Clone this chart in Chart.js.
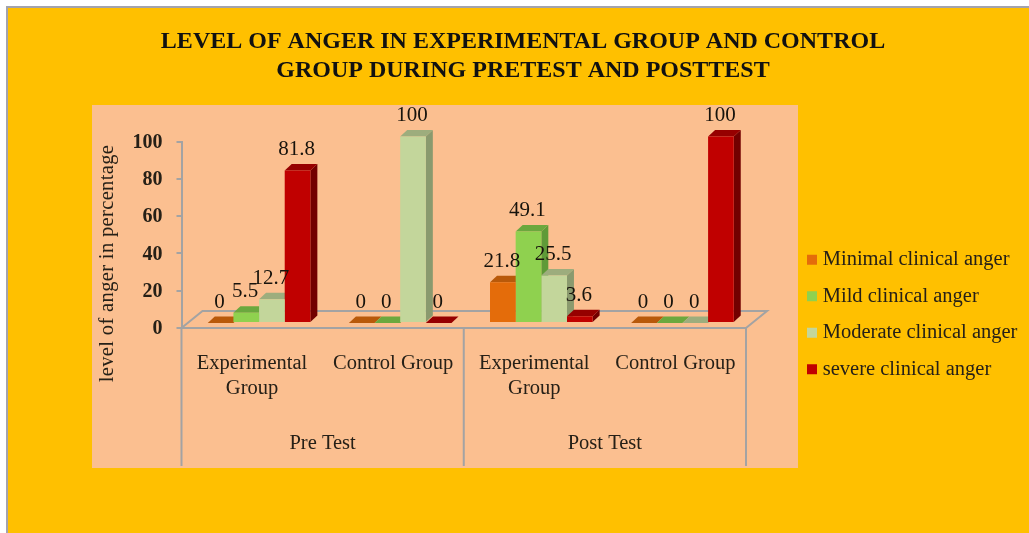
<!DOCTYPE html>
<html>
<head>
<meta charset="utf-8">
<script src="https://cdn.jsdelivr.net/npm/chart.js@4"></script>
<style>
    html, body { margin: 0; padding: 0; background: #fff; overflow: hidden; }
    #frame { position: absolute; left: 6px; top: 6px; width: 1023px; height: 527px; background: #FFC000;
             border-left: 2px solid #a3a3ad; border-top: 2px solid #a3a3ad; box-sizing: border-box; }
    #chart { position: absolute; left: 0; top: 0; }
</style>
</head>
<body>
<div id="frame"></div>
<canvas id="chart" width="1029" height="533"></canvas>
<script>
const groupLabels = [['Experimental', 'Group'], 'Control Group', ['Experimental', 'Group'], 'Control Group'];
const testLabels = ['Pre Test', 'Post Test'];
const titleLines = ['LEVEL OF ANGER IN EXPERIMENTAL GROUP AND CONTROL', 'GROUP DURING PRETEST AND POSTTEST'];
const yAxisTitle = 'level of anger in percentage';

const minimalAnger = [0, 0, 21.8, 0];
const mildAnger = [5.5, 0, 49.1, 0];
const moderateAnger = [12.7, 100, 25.5, 0];
const severeAnger = [81.8, 0, 3.6, 100];

const frontColors = ['#E46C0A', '#8FD14F', '#C3D69B', '#C00000'];
const topColors = ['#B8590A', '#6BA83E', '#9DAD7D', '#960000'];
const sideColors = ['#A34E08', '#5F9A38', '#8A9A6E', '#720000'];

const serif = '"Liberation Serif", serif';
const inkColor = '#262017';
const lineColor = '#A3A3A3';

// bars sit a bit up and right of the axes, like the 3d floor in the original
const barShift = { x: 7, y: -5 };
const depth = { x: 7, y: 6.5 };
const floorDepth = { x: 21, y: 17 };

function poly(ctx, color, pts) {
    ctx.fillStyle = color;
    ctx.beginPath();
    pts.forEach((p, i) => i ? ctx.lineTo(p[0], p[1]) : ctx.moveTo(p[0], p[1]));
    ctx.closePath();
    ctx.fill();
}

const bars3d = {
    id: 'bars3d',
    beforeDraw(chart) {
        const ctx = chart.ctx;
        ctx.fillStyle = '#FBBF90';
        ctx.fillRect(92, 105, 706, 363);
    },
    afterLayout(chart) {
        const t = chart.titleBlock;
        t.left = 17; t.right = 1029; t.top = 27; t.bottom = 85;
        const l = chart.legend;
        l.left = 795.5; l.right = 1029; l.top = 233.5; l.bottom = 400;
    },
    beforeDatasetsDraw(chart) {
        const ctx = chart.ctx;
        const x = chart.scales.x, y = chart.scales.y;
        const y0 = y.getPixelForValue(0);

        // floor outline and the separators under the axis
        ctx.save();
        ctx.strokeStyle = lineColor;
        ctx.lineWidth = 2;
        ctx.beginPath();
        ctx.moveTo(x.left, y0);
        ctx.lineTo(x.left + floorDepth.x, y0 - floorDepth.y);
        ctx.lineTo(x.right + floorDepth.x, y0 - floorDepth.y);
        ctx.lineTo(x.right, y0);
        [x.left, (x.left + x.right) / 2, x.right].forEach(px => {
            ctx.moveTo(px, y0);
            ctx.lineTo(px, 466);
        });
        ctx.stroke();
        ctx.restore();

        ctx.save();
        ctx.translate(barShift.x, barShift.y);
        // depth faces go first, left to right, the fronts are drawn by chart.js on top
        for (let c = 0; c < groupLabels.length; c++) {
            chart.data.datasets.forEach((ds, i) => {
                const b = chart.getDatasetMeta(i).data[c];
                const l = b.x - b.width / 2, r = b.x + b.width / 2;
                poly(ctx, sideColors[i], [[r, b.y], [r + depth.x, b.y - depth.y], [r + depth.x, b.base - depth.y], [r, b.base]]);
                poly(ctx, topColors[i], [[l, b.y], [r, b.y], [r + depth.x, b.y - depth.y], [l + depth.x, b.y - depth.y]]);
            });
        }
    },
    afterDatasetsDraw(chart) {
        const ctx = chart.ctx;
        ctx.restore();

        ctx.save();
        ctx.font = '21px ' + serif;
        ctx.fillStyle = '#17130c';
        ctx.textAlign = 'center';
        ctx.textBaseline = 'middle';
        chart.data.datasets.forEach((ds, i) => {
            chart.getDatasetMeta(i).data.forEach((b, c) => {
                ctx.fillText(String(ds.data[c]), b.x + barShift.x - 1, b.y + barShift.y - 21);
            });
        });
        ctx.restore();

        // axis title sits lower than the scale centre, so it is placed by hand
        ctx.save();
        ctx.translate(107.5, 263.5);
        ctx.rotate(-Math.PI / 2);
        ctx.font = '20.5px ' + serif;
        ctx.letterSpacing = '0.35px';
        ctx.fillStyle = inkColor;
        ctx.textAlign = 'center';
        ctx.textBaseline = 'middle';
        ctx.fillText(yAxisTitle, 0, 0);
        ctx.restore();
    }
};

new Chart(document.getElementById('chart'), {
    type: 'bar',
    plugins: [bars3d],
    data: {
        labels: groupLabels,
        datasets: [
            { label: 'Minimal clinical anger', data: minimalAnger, backgroundColor: frontColors[0], clip: false },
            { label: 'Mild clinical anger', data: mildAnger, backgroundColor: frontColors[1], clip: false },
            { label: 'Moderate clinical anger', data: moderateAnger, backgroundColor: frontColors[2], clip: false },
            { label: 'severe clinical anger', data: severeAnger, backgroundColor: frontColors[3], clip: false }
        ]
    },
    options: {
        responsive: false,
        animation: false,
        layout: { padding: { left: 92, right: 283, top: 83.5, bottom: 55 } },
        datasets: { bar: { barPercentage: 1, categoryPercentage: 0.727 } },
        plugins: {
            title: {
                display: true,
                text: titleLines,
                color: '#111',
                padding: 0,
                font: { family: serif, size: 24, weight: 'bold', lineHeight: 29 / 24 }
            },
            legend: {
                position: 'chartArea',
                align: 'start',
                labels: {
                    color: inkColor,
                    boxWidth: 1,
                    boxHeight: 1,
                    padding: 16,
                    font: { family: serif, size: 20.5 },
                    generateLabels(chart) {
                        const items = Chart.defaults.plugins.legend.labels.generateLabels(chart);
                        return items.map(it => ({ ...it, lineWidth: 9, strokeStyle: it.fillStyle }));
                    }
                }
            },
            tooltip: { enabled: false }
        },
        scales: {
            x: {
                weight: 0,
                offset: true,
                grid: { display: false },
                border: { display: true, color: lineColor, width: 2 },
                ticks: {
                    color: inkColor,
                    padding: 15.5,
                    maxRotation: 0,
                    autoSkip: false,
                    font: { family: serif, size: 20.5, lineHeight: 25 / 20.5 }
                },
                afterFit(scale) { scale.height = 90; }
            },
            x2: {
                type: 'category',
                labels: testLabels,
                weight: 1,
                offset: true,
                position: 'bottom',
                grid: { display: false },
                border: { display: false },
                ticks: {
                    color: inkColor,
                    padding: 5.5,
                    maxRotation: 0,
                    font: { family: serif, size: 20.5, lineHeight: 25 / 20.5 }
                },
                afterFit(scale) { scale.height = 60; }
            },
            y: {
                min: 0,
                max: 100,
                grid: { drawOnChartArea: false, color: lineColor, tickLength: 5, lineWidth: 2 },
                border: { display: true, color: lineColor, width: 2 },
                ticks: {
                    stepSize: 20,
                    color: inkColor,
                    padding: 14,
                    labelOffset: 1,
                    font: { family: serif, size: 20, weight: 'bold' }
                },
                afterFit(scale) { scale.width = 89.5; }
            }
        }
    }
});
</script>
</body>
</html>
